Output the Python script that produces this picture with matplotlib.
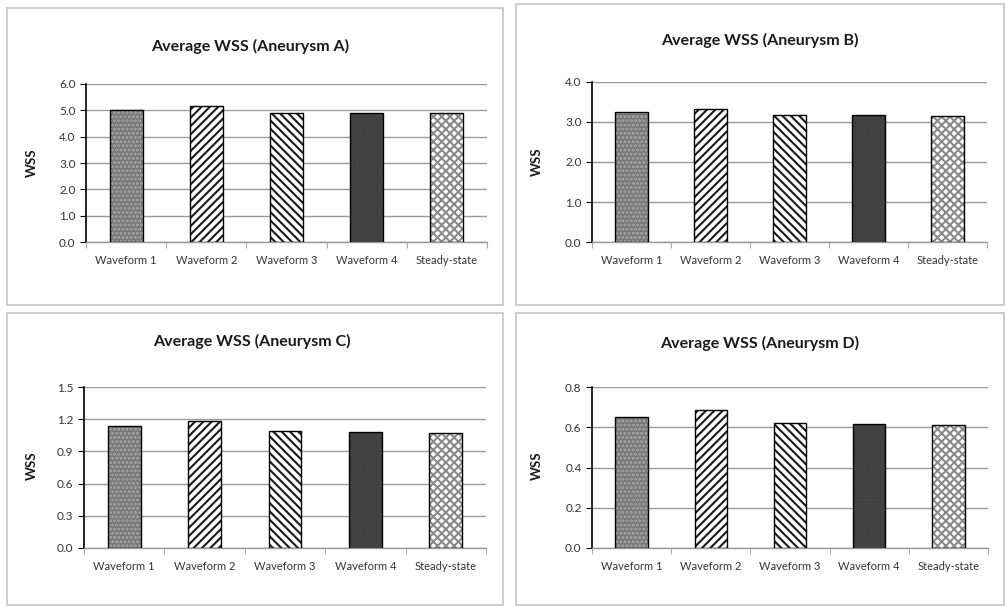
import matplotlib
matplotlib.use("Agg")
import matplotlib.pyplot as plt
from matplotlib.patches import Rectangle
from matplotlib.ticker import FormatStrFormatter, FixedLocator
import numpy as np

plt.rcParams['font.family'] = ['Lato', 'DejaVu Sans']
plt.rcParams['hatch.linewidth'] = 1.5

categories = ["Waveform 1", "Waveform 2", "Waveform 3", "Waveform 4", "Steady-state"]
wss_a = [5.00, 5.15, 4.89, 4.89, 4.89]
wss_b = [3.25, 3.32, 3.18, 3.18, 3.15]
wss_c = [1.135, 1.185, 1.09, 1.08, 1.07]
wss_d = [0.653, 0.686, 0.621, 0.617, 0.610]
titles = ["Average WSS (Aneurysm A)", "Average WSS (Aneurysm B)",
          "Average WSS (Aneurysm C)", "Average WSS (Aneurysm D)"]
y_ticks_a = [0.0, 1.0, 2.0, 3.0, 4.0, 5.0, 6.0]
y_ticks_b = [0.0, 1.0, 2.0, 3.0, 4.0]
y_ticks_c = [0.0, 0.3, 0.6, 0.9, 1.2, 1.5]
y_ticks_d = [0.0, 0.2, 0.4, 0.6, 0.8]

# bar styles: (face, hatch, hatch colour)
styles = [("#767676", "....", "#a8a8a8"),
          ("white", "////", "#1a1a1a"),
          ("white", "\\\\\\\\", "#1a1a1a"),
          ("#333333", "......", "#505050"),
          ("white", "xxxx", "#8a8a8a")]

W, H = 1006, 607
fig = plt.figure(figsize=(W / 100, H / 100), dpi=100)

def fx(px):
    return px / W

def fy(py):
    return 1 - py / H

# panel borders (px: x0, y0, x1, y1)
panels = [(7, 8, 503, 305), (516, 4, 1004, 305), (7, 313, 503, 605), (516, 313, 1004, 605)]
for (x0, y0, x1, y1) in panels:
    fig.add_artist(Rectangle((fx(x0), fy(y1)), fx(x1) - fx(x0), fy(y0) - fy(y1),
                             transform=fig.transFigure, fill=False,
                             edgecolor="#c4c4c4", linewidth=1.2))

# axes boxes (px: left, top, right, bottom)
boxes = [(86, 84, 487, 242), (592, 82, 987, 242), (84, 387, 486, 548), (592, 387, 988, 548)]
datas = [wss_a, wss_b, wss_c, wss_d]
ticks = [y_ticks_a, y_ticks_b, y_ticks_c, y_ticks_d]
title_pos = [(250, 46), (760, 40), (252, 341), (760, 343)]
ylab_pos = [(32, 163), (537, 162), (32, 466), (537, 466)]

x = np.arange(len(categories))
for i in range(4):
    l, t, r, b = boxes[i]
    ax = fig.add_axes([fx(l), fy(b), fx(r) - fx(l), fy(t) - fy(b)])
    for j, v in enumerate(datas[i]):
        face, hatch, hc = styles[j]
        ax.bar(x[j], v, width=0.41, color=face, hatch=hatch, edgecolor=hc,
               linewidth=0, zorder=2)
        ax.bar(x[j], v, width=0.41, facecolor="none", edgecolor="black",
               linewidth=1.0, zorder=3)
    ax.set_xlim(-0.5, len(categories) - 0.5)
    ax.set_ylim(ticks[i][0], ticks[i][-1])
    ax.set_yticks(ticks[i])
    ax.yaxis.set_major_formatter(FormatStrFormatter("%.1f"))
    ax.set_xticks(x)
    ax.set_xticklabels(categories, fontsize=8, color="#333333")
    ax.xaxis.set_minor_locator(FixedLocator(np.arange(-0.5, len(categories), 1.0)))
    ax.tick_params(axis="x", which="major", length=0, pad=9)
    ax.tick_params(axis="x", which="minor", length=4, color="#999999", direction="out")
    ax.tick_params(axis="y", length=4, labelsize=8.5, color="black", labelcolor="#333333")
    ax.grid(axis="y", color="#9a9a9a", linewidth=1.0, zorder=0)
    ax.set_axisbelow(True)
    for s in ["top", "right"]:
        ax.spines[s].set_visible(False)
    ax.spines["left"].set_color("black")
    ax.spines["left"].set_linewidth(1.2)
    ax.spines["bottom"].set_color("#999999")
    ax.spines["bottom"].set_linewidth(1.0)
    tx, ty = title_pos[i]
    fig.text(fx(tx), fy(ty), titles[i], ha="center", va="center",
             fontsize=11.5, fontweight="bold", color="#1a1a1a")
    lx, ly = ylab_pos[i]
    fig.text(fx(lx), fy(ly), "WSS", ha="center", va="center", rotation=90,
             fontsize=9.5, fontweight="bold", color="#1a1a1a")

fig.savefig("out.png", dpi=100, facecolor="white")
